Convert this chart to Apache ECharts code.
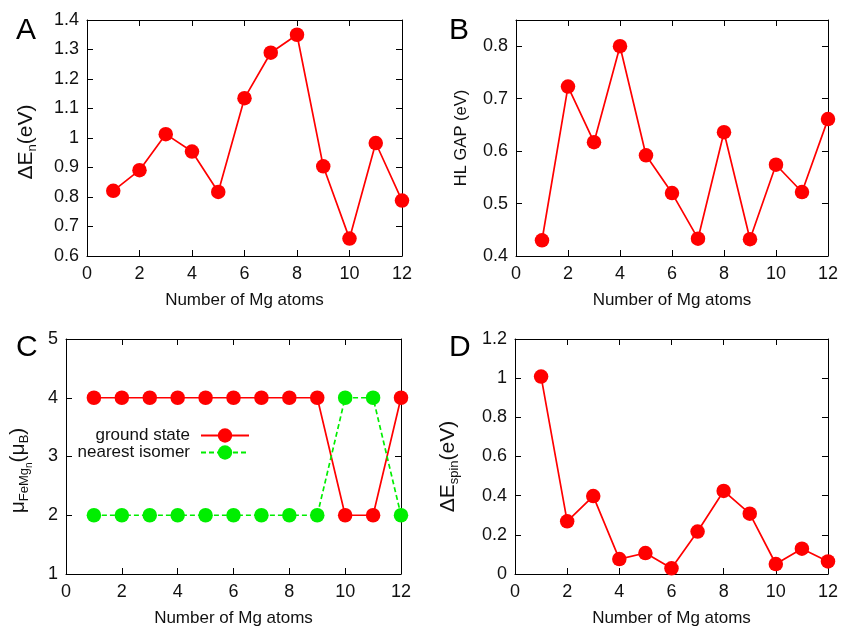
<!DOCTYPE html>
<html>
<head>
<meta charset="utf-8">
<script src="https://cdn.jsdelivr.net/npm/echarts@6/dist/echarts.min.js"></script>
<style>
html,body{margin:0;padding:0;background:#fff;}
#main{width:841px;height:628px;}
</style>
</head>
<body>
<div id="main"></div>
<script>
// ---- data ----
const nMg = [1, 2, 3, 4, 5, 6, 7, 8, 9, 10, 11, 12];
const deltaEn = [0.821, 0.891, 1.013, 0.954, 0.817, 1.135, 1.289, 1.350, 0.904, 0.659, 0.983, 0.788];
const hlGap = [0.430, 0.723, 0.617, 0.800, 0.592, 0.520, 0.433, 0.636, 0.432, 0.574, 0.522, 0.661];
const muGround = [4, 4, 4, 4, 4, 4, 4, 4, 4, 2, 2, 4];
const muIsomer = [2, 2, 2, 2, 2, 2, 2, 2, 2, 4, 4, 2];
const deltaEspin = [1.008, 0.269, 0.398, 0.076, 0.107, 0.029, 0.217, 0.424, 0.308, 0.051, 0.129, 0.064];
const xRange = [0, 12, 2];
const yRangeA = [0.6, 1.4, 0.1];
const yRangeB = [0.4, 0.85, 0.1];
const yRangeC = [1, 5, 1];
const yRangeD = [0, 1.2, 0.2];
const panelLetters = ['A', 'B', 'C', 'D'];
const legendNames = ['ground state', 'nearest isomer'];
const xTitle = 'Number of Mg atoms';

const FONT = 'Liberation Sans, Arial, sans-serif';
const TXT = '#111';
const RED = '#ff0000';
const GREEN = '#00ee00';

const grids = [
  {left: 87, top: 20, width: 315, height: 236},
  {left: 516, top: 20, width: 313, height: 236},
  {left: 66, top: 339, width: 335, height: 236},
  {left: 515, top: 339, width: 314, height: 236}
];

const pair = (ys) => nMg.map((n, i) => [n, ys[i]]);

function xAxes(gi) {
  const base = {
    type: 'value', gridIndex: gi, min: xRange[0], max: xRange[1], interval: xRange[2],
    splitLine: {show: false},
    axisLine: {show: true, onZero: false, lineStyle: {color: '#000', width: 1}},
    axisTick: {show: true, inside: true, length: 6, lineStyle: {color: '#000', width: 1}}
  };
  return [
    Object.assign({}, base, {
      position: 'bottom',
      axisLabel: {show: true, fontSize: 18, color: TXT, fontFamily: FONT, margin: 9},
      name: xTitle, nameLocation: 'middle', nameGap: 36,
      nameTextStyle: {fontSize: 17, color: TXT, fontFamily: FONT}
    }),
    Object.assign({}, base, {position: 'top', axisLabel: {show: false}})
  ];
}

function yAxes(gi, r, name, nameStyle, gap) {
  const base = {
    type: 'value', gridIndex: gi, min: r[0], max: r[1], interval: r[2],
    splitLine: {show: false},
    axisLine: {show: true, onZero: false, lineStyle: {color: '#000', width: 1}},
    axisTick: {show: true, inside: true, length: 6, lineStyle: {color: '#000', width: 1}}
  };
  return [
    Object.assign({}, base, {
      position: 'left',
      axisLabel: {show: true, fontSize: 18, color: TXT, fontFamily: FONT, margin: 8, showMaxLabel: r[1] === 0.85 ? false : true},
      name: name, nameLocation: 'middle', nameRotate: 90, nameGap: gap,
      nameTextStyle: nameStyle
    }),
    Object.assign({}, base, {position: 'right', axisLabel: {show: false}})
  ];
}

const big = {fontSize: 21, color: TXT, fontFamily: FONT};
const sub = {fontSize: 13, color: TXT, fontFamily: FONT, padding: [13, 0, 0, 0]};
const subsub = {fontSize: 10, color: TXT, fontFamily: FONT, padding: [22, 0, 0, 0]};

const xAxis = [].concat(xAxes(0), xAxes(1), xAxes(2), xAxes(3));
const yAxis = [].concat(
  yAxes(0, yRangeA, '{b|ΔE}{s|n}{b|(eV)}', {rich: {b: big, s: sub}, padding: [0, 8, 0, 0]}, 48),
  yAxes(1, yRangeB, 'HL GAP (eV)', {fontSize: 16.5, color: TXT, fontFamily: FONT}, 46),
  yAxes(2, yRangeC, '{b|μ}{s|FeMg}{t|n}{b|(μ}{s|B}{b|)}', {rich: {b: big, s: sub, t: subsub}, padding: [0, 28, 0, 0]}, 32),
  yAxes(3, yRangeD, '{b|ΔE}{s|spin}{b|(eV)}', {rich: {b: big, s: sub}, padding: [0, 20, 0, 0]}, 54)
);

function lineSeries(name, xi, yi, ys, color, dashed) {
  return {
    name: name, type: 'line', xAxisIndex: xi, yAxisIndex: yi, data: pair(ys),
    symbol: 'circle', symbolSize: 14.5, showSymbol: true,
    lineStyle: {color: color, width: 1.7, type: dashed ? [5, 3] : 'solid'},
    itemStyle: {color: color},
    emphasis: {disabled: true}
  };
}

const series = [
  lineSeries('A', 0, 0, deltaEn, RED, false),
  lineSeries('B', 2, 2, hlGap, RED, false),
  lineSeries(legendNames[0], 4, 4, muGround, RED, false),
  lineSeries(legendNames[1], 4, 4, muIsomer, GREEN, true),
  lineSeries('D', 6, 6, deltaEspin, RED, false)
];

const letterPos = [[16, 16], [449, 16], [16, 333], [449, 333]];
const graphic = panelLetters.map((t, i) => ({
  type: 'text', left: letterPos[i][0], top: letterPos[i][1],
  style: {text: t, font: '30px ' + FONT, fill: '#000'}
}));

const legendBase = {
  orient: 'vertical', align: 'right', itemWidth: 48, itemHeight: 18, itemGap: 0,
  textStyle: {fontSize: 17, color: TXT, fontFamily: FONT, padding: [0, 6, 0, 0]},
  padding: 0, selectedMode: false
};

const option = {
  animation: false,
  backgroundColor: '#fff',
  grid: grids.map(g => Object.assign({containLabel: false, show: false}, g)),
  xAxis: xAxis,
  yAxis: yAxis,
  series: series,
  legend: [
    Object.assign({}, legendBase, {data: [legendNames[0]], right: 841 - 250, top: 427}),
    Object.assign({}, legendBase, {data: [legendNames[1]], right: 841 - 250, top: 444})
  ],
  graphic: graphic
};

const chart = echarts.init(document.getElementById('main'), null, {renderer: 'canvas'});
chart.setOption(option);
</script>
</body>
</html>
